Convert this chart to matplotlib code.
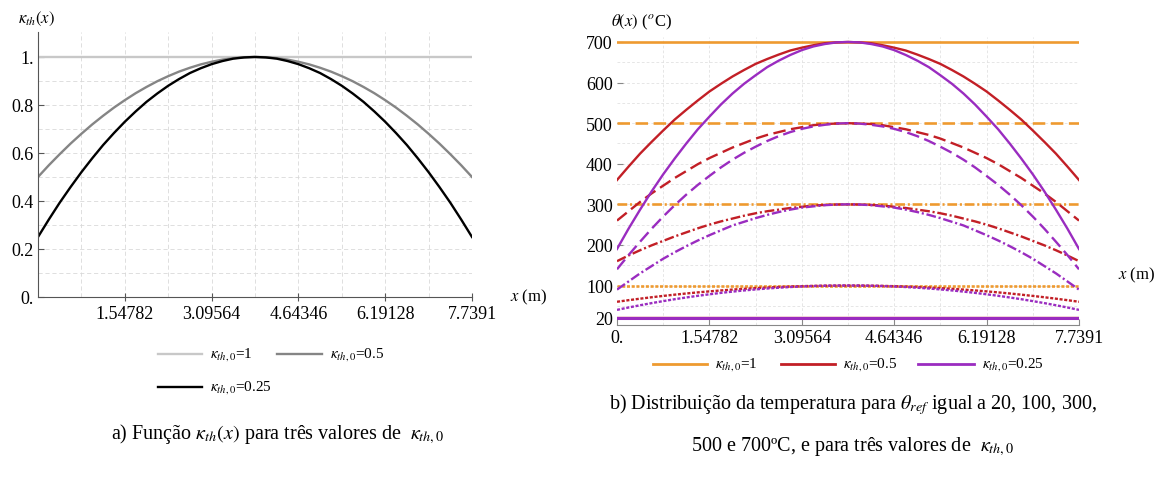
import matplotlib
matplotlib.use("Agg")
import matplotlib.pyplot as plt
from matplotlib.lines import Line2D

plt.rcParams["font.family"] = ["Liberation Serif", "DejaVu Serif"]
plt.rcParams["mathtext.fontset"] = "stix"
plt.rcParams["lines.scale_dashes"] = False

# ---------------- data ----------------
L = 7.7391
x_m = [0.0, 0.19348, 0.38696, 0.58043, 0.77391, 0.96739, 1.16087, 1.35434,
       1.54782, 1.7413, 1.93478, 2.12825, 2.32173, 2.51521, 2.70869, 2.90216,
       3.09564, 3.28912, 3.4826, 3.67607, 3.86955, 4.06303, 4.25651, 4.44998,
       4.64346, 4.83694, 5.03042, 5.22389, 5.41737, 5.61085, 5.80433, 5.9978,
       6.19128, 6.38476, 6.57824, 6.77171, 6.96519, 7.15867, 7.35215, 7.54562,
       7.7391]

kappa_1 = [1.0] * 41
kappa_05 = [0.5, 0.549, 0.595, 0.639, 0.68, 0.719, 0.755, 0.789, 0.82, 0.849,
            0.875, 0.899, 0.92, 0.939, 0.955, 0.969, 0.98, 0.989, 0.995, 0.999,
            1.0,
            0.999, 0.995, 0.989, 0.98, 0.969, 0.955, 0.939, 0.92, 0.899, 0.875,
            0.849, 0.82, 0.789, 0.755, 0.719, 0.68, 0.639, 0.595, 0.549, 0.5]
kappa_025 = [0.25, 0.323, 0.393, 0.458, 0.52, 0.578, 0.633, 0.683, 0.73, 0.773,
             0.813, 0.848, 0.88, 0.908, 0.933, 0.953, 0.97, 0.983, 0.993, 0.998,
             1.0,
             0.998, 0.993, 0.983, 0.97, 0.953, 0.933, 0.908, 0.88, 0.848, 0.813,
             0.773, 0.73, 0.683, 0.633, 0.578, 0.52, 0.458, 0.393, 0.323, 0.25]

theta_ref = [700, 500, 300, 100, 20]
# temperature curves, kappa_th0 = 0.5
theta700_05 = [360, 393, 425, 454, 482, 509, 533, 556, 578, 597, 615, 631, 646,
               658, 669, 679, 686, 692, 697, 699, 700,
               699, 697, 692, 686, 679, 669, 658, 646, 631, 615, 597, 578, 556,
               533, 509, 482, 454, 425, 393, 360]
theta500_05 = [260, 283, 306, 327, 346, 365, 382, 399, 414, 427, 440, 451, 462,
               471, 478, 485, 490, 495, 498, 499, 500,
               499, 498, 495, 490, 485, 478, 471, 462, 451, 440, 427, 414, 399,
               382, 365, 346, 327, 306, 283, 260]
theta300_05 = [160, 174, 187, 199, 210, 221, 231, 241, 250, 258, 265, 272, 278,
               283, 287, 291, 294, 297, 298.6, 299.6, 300,
               299.6, 298.6, 297, 294, 291, 287, 283, 278, 272, 265, 258, 250,
               241, 231, 221, 210, 199, 187, 174, 160]
theta100_05 = [60, 63.9, 67.6, 71.1, 74.4, 77.5, 80.4, 83.1, 85.6, 87.9, 90,
               91.9, 93.6, 95.1, 96.4, 97.5, 98.4, 99.1, 99.6, 99.9, 100,
               99.9, 99.6, 99.1, 98.4, 97.5, 96.4, 95.1, 93.6, 91.9, 90, 87.9,
               85.6, 83.1, 80.4, 77.5, 74.4, 71.1, 67.6, 63.9, 60]
theta20_05 = [20.0] * 41
# temperature curves, kappa_th0 = 0.25
theta700_025 = [190, 240, 287, 332, 374, 413, 450, 485, 516, 546, 573, 597, 618,
                638, 654, 668, 680, 689, 695, 699, 700,
                699, 695, 689, 680, 668, 654, 638, 618, 597, 573, 546, 516, 485,
                450, 413, 374, 332, 287, 240, 190]
theta500_025 = [140, 175, 208, 240, 270, 298, 324, 348, 370, 391, 410, 427, 442,
                456, 468, 478, 486, 492, 496, 499, 500,
                499, 496, 492, 486, 478, 468, 456, 442, 427, 410, 391, 370, 348,
                324, 298, 270, 240, 208, 175, 140]
theta300_025 = [90, 110, 130, 148, 166, 182, 197, 211, 224, 236, 248, 257, 266,
                274, 281, 287, 292, 295, 298, 299.5, 300,
                299.5, 298, 295, 292, 287, 281, 274, 266, 257, 248, 236, 224, 211,
                197, 182, 166, 148, 130, 110, 90]
theta100_025 = [40, 45.9, 51.4, 56.7, 61.6, 66.3, 70.6, 74.7, 78.4, 81.9, 85,
                87.9, 90.4, 92.7, 94.6, 96.3, 97.6, 98.7, 99.4, 99.9, 100,
                99.9, 99.4, 98.7, 97.6, 96.3, 94.6, 92.7, 90.4, 87.9, 85, 81.9,
                78.4, 74.7, 70.6, 66.3, 61.6, 56.7, 51.4, 45.9, 40]
theta20_025 = [20.0] * 41

x_ticks = [1.54782, 3.09564, 4.64346, 6.19128, 7.7391]
x_tick_labels = ["1.54782", "3.09564", "4.64346", "6.19128", "7.7391"]
x_ticks_b = [0.0] + x_ticks
x_tick_labels_b = ["0."] + x_tick_labels
y_ticks_a = [0.0, 0.2, 0.4, 0.6, 0.8, 1.0]
y_tick_labels_a = ["0.", "0.2", "0.4", "0.6", "0.8", "1."]
y_ticks_b = [20, 100, 200, 300, 400, 500, 600, 700]
y_tick_labels_b = ["20", "100", "200", "300", "400", "500", "600", "700"]

# ---------------- figure ----------------
W, H = 1158, 481
fig = plt.figure(figsize=(W / 100, H / 100), dpi=100)

def fx(px):
    return px / W

def fy(py):
    return 1 - py / H

grid_col = "#d9d9d9"
spine_col = "#555555"

# ---- panel a ----
ax1 = fig.add_axes([fx(38), fy(298), fx(472 - 38), (298 - 33) / H])
ax1.set_xlim(0, L)
ax1.set_ylim(0, 1.104)
for xv in [L / 10 * k for k in range(1, 11)]:
    ax1.axvline(xv, color=grid_col, lw=0.6, ls=(0, (3, 2)), zorder=0)
for yv in [0.1 * k for k in range(1, 11)]:
    ax1.axhline(yv, color=grid_col, lw=0.6, ls=(0, (3, 2)), zorder=0)
ax1.plot(x_m, kappa_1, color="#c8c8c8", lw=1.7, label=r"$\kappa_{th,0}$=1")
ax1.plot(x_m, kappa_05, color="#858585", lw=1.7, label=r"$\kappa_{th,0}$=0.5")
ax1.plot(x_m, kappa_025, color="#000000", lw=1.7, label=r"$\kappa_{th,0}$=0.25")
ax1.set_xticks(x_ticks)
ax1.set_xticklabels(x_tick_labels)
ax1.set_yticks(y_ticks_a)
ax1.set_yticklabels(y_tick_labels_a)
ax1.tick_params(axis="both", labelsize=13, direction="in", length=4,
                color=spine_col, pad=3)
ax1.tick_params(axis="x", direction="inout", length=6)
for s in ["top", "right"]:
    ax1.spines[s].set_visible(False)
for s in ["left", "bottom"]:
    ax1.spines[s].set_color(spine_col)
    ax1.spines[s].set_linewidth(0.8)

fig.text(fx(18), fy(19), r"$\kappa_{th}(x)$", fontsize=12, va="center", ha="left")
fig.text(fx(510), fy(297), r"$x$ (m)", fontsize=12, va="center", ha="left")

# legends drawn as line samples + text
def leg_item(x0, x1, y, color, label, ls="-", lw=1.7, fs=11):
    fig.add_artist(Line2D([fx(x0), fx(x1)], [fy(y), fy(y)], color=color, lw=lw,
                          ls=ls, transform=fig.transFigure))
    fig.text(fx(x1 + 8), fy(y), label, fontsize=fs, va="center", ha="left")

leg_item(158, 202, 355, "#c8c8c8", r"$\kappa_{th,0}$=1")
leg_item(277, 322, 355, "#858585", r"$\kappa_{th,0}$=0.5")
leg_item(158, 202, 388, "#000000", r"$\kappa_{th,0}$=0.25")

fig.text(fx(278), fy(434),
         r"a) Função $\kappa_{th}\left(x\right)$ para três valores de  $\kappa_{th,0}$",
         fontsize=14.5, ha="center", va="center")

# ---- panel b ----
orange = "#EE9A30"
red = "#C21F26"
purple = "#9A2CC0"

ax2 = fig.add_axes([fx(617), fy(326), fx(462), (326 - 38) / H])
ax2.set_xlim(0, L)
ax2.set_ylim(2.75, 712.3)
for xv in [L / 10 * k for k in range(1, 11)]:
    ax2.axvline(xv, color="#e2e2e2", lw=0.6, ls=(0, (2, 1.5)), zorder=0)
for yv in [50 * k for k in range(1, 15)]:
    ax2.axhline(yv, color="#e2e2e2", lw=0.6, ls=(0, (2, 1.5)), zorder=0)

styles = {700: "-", 500: (0, (9, 4)), 300: (0, (7, 2, 1.5, 2)),
          100: (0, (2.2, 1.2)), 20: "-"}
series_05 = {700: theta700_05, 500: theta500_05, 300: theta300_05,
             100: theta100_05, 20: theta20_05}
series_025 = {700: theta700_025, 500: theta500_025, 300: theta300_025,
              100: theta100_025, 20: theta20_025}

for t in theta_ref:
    ax2.plot(x_m, [float(t)] * len(x_m), color=orange, lw=1.9, ls=styles[t])
for t in theta_ref:
    ax2.plot(x_m, series_05[t], color=red, lw=1.7, ls=styles[t])
for t in theta_ref:
    ax2.plot(x_m, series_025[t], color=purple, lw=1.7 if t != 20 else 2.2,
             ls=styles[t])

ax2.set_xticks(x_ticks_b)
ax2.set_xticklabels(x_tick_labels_b)
ax2.set_yticks(y_ticks_b)
ax2.set_yticklabels(y_tick_labels_b)
ax2.tick_params(axis="both", labelsize=13, direction="in", length=4,
                color="#888888", pad=3)
for s in ["top", "right", "left"]:
    ax2.spines[s].set_visible(False)
ax2.spines["bottom"].set_color("#888888")
ax2.spines["bottom"].set_linewidth(0.8)

fig.text(fx(611), fy(22), r"$\theta(x)$ ($^{o}$C)", fontsize=12, va="center", ha="left")
fig.text(fx(1118), fy(275), r"$x$ (m)", fontsize=12, va="center", ha="left")

leg_item(653, 707, 365, orange, r"$\kappa_{th,0}$=1", lw=2)
leg_item(781, 835, 365, red, r"$\kappa_{th,0}$=0.5", lw=2)
leg_item(918, 974, 365, purple, r"$\kappa_{th,0}$=0.25", lw=2)

fig.text(fx(853), fy(405),
         r"b) Distribuição da temperatura para $\theta_{ref}$ igual a 20, 100, 300,",
         fontsize=14.5, ha="center", va="center")
fig.text(fx(853), fy(447),
         r"500 e 700ºC, e para três valores de  $\kappa_{th,0}$",
         fontsize=14.5, ha="center", va="center")

fig.savefig("out.png", dpi=100)
